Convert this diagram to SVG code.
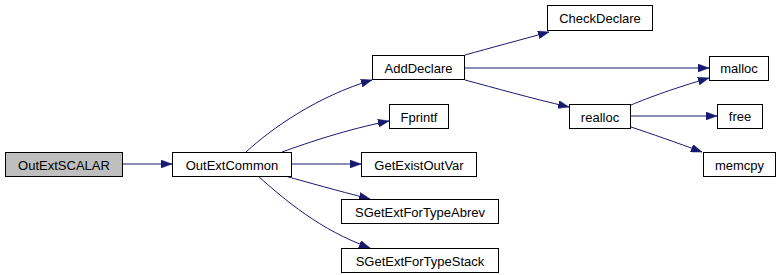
<svg xmlns="http://www.w3.org/2000/svg" width="781" height="275" viewBox="0 0 781 275">
<style>
.n rect{fill:#ffffff;stroke:#000000;stroke-width:1}
.n.root rect{fill:#bfbfbf}
.n text{font-family:"Liberation Sans",Arial,sans-serif;font-size:13px;fill:#000000;text-anchor:middle}
.e path{fill:none;stroke:#191970;stroke-width:1;marker-end:url(#ah)}
</style>
<defs>
<marker id="ah" viewBox="0 0 11 8" refX="11" refY="4" markerWidth="11" markerHeight="8" markerUnits="userSpaceOnUse" orient="auto">
<path d="M0,0 L11,4 L0,8 z" fill="#191970" stroke="#191970" stroke-width="0.5"/>
</marker>
</defs>
<rect x="0" y="0" width="781" height="275" fill="#ffffff"/>
<g id="edges" class="e">
<path d="M123,164 L172,164"/>
<path d="M246,152 C272,128 318,96 372,80"/>
<path d="M282,152 C310,142 345,130 389,121"/>
<path d="M292,164 L361,164"/>
<path d="M285,176 C310,183 335,190 370,199"/>
<path d="M258,176 C285,200 320,230 370,248"/>
<path d="M465,55 C490,48 520,40 549,32"/>
<path d="M465,68 L709,68"/>
<path d="M465,80 C495,88 530,98 569,107"/>
<path d="M631,105 C650,97 675,88 709,78"/>
<path d="M631,116 L717,116"/>
<path d="M631,127 C652,134 675,142 702,152"/>
</g>
<g id="OutExtSCALAR" class="n root"><rect x="5.5" y="152.5" width="117" height="24"/><text x="64" y="169.5">OutExtSCALAR</text></g>
<g id="OutExtCommon" class="n"><rect x="172.5" y="152.5" width="119" height="24"/><text x="232" y="169.5">OutExtCommon</text></g>
<g id="AddDeclare" class="n"><rect x="372.5" y="55.5" width="92" height="24"/><text x="418.5" y="72.5">AddDeclare</text></g>
<g id="Fprintf" class="n"><rect x="389.5" y="104.5" width="59" height="24"/><text x="419" y="121.5">Fprintf</text></g>
<g id="GetExistOutVar" class="n"><rect x="361.5" y="152.5" width="115" height="24"/><text x="419" y="169.5">GetExistOutVar</text></g>
<g id="SGetExtForTypeAbrev" class="n"><rect x="341.5" y="199.5" width="157" height="24"/><text x="420" y="216.5">SGetExtForTypeAbrev</text></g>
<g id="SGetExtForTypeStack" class="n"><rect x="341.5" y="248.5" width="157" height="24"/><text x="420" y="265.5">SGetExtForTypeStack</text></g>
<g id="CheckDeclare" class="n"><rect x="547.5" y="5.5" width="105" height="25"/><text x="600" y="23">CheckDeclare</text></g>
<g id="malloc" class="n"><rect x="709.5" y="56.5" width="59" height="24"/><text x="739" y="73">malloc</text></g>
<g id="realloc" class="n"><rect x="569.5" y="104.5" width="61" height="24"/><text x="600" y="121.5">realloc</text></g>
<g id="free" class="n"><rect x="717.5" y="104.5" width="45" height="24"/><text x="740" y="121">free</text></g>
<g id="memcpy" class="n"><rect x="703.5" y="152.5" width="72" height="24"/><text x="739.5" y="169.5">memcpy</text></g>
</svg>
